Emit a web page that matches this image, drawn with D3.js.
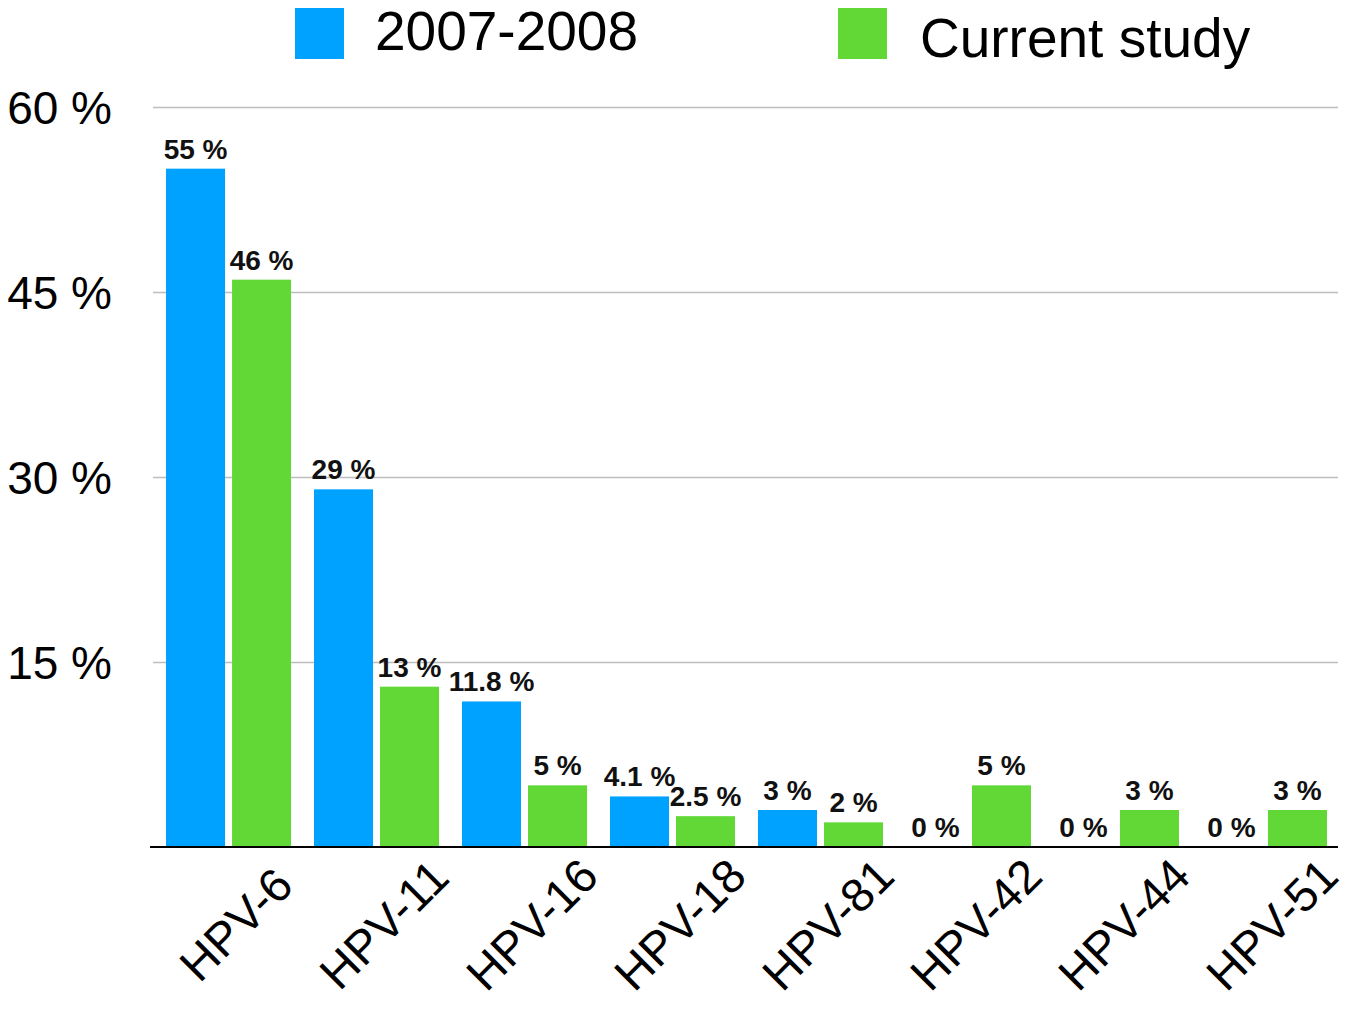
<!DOCTYPE html>
<html>
<head>
<meta charset="utf-8">
<script src="https://cdn.jsdelivr.net/npm/d3@7"></script>
<style>
  body { margin: 0; background: #fff; }
  svg { display: block; font-family: "Liberation Sans", Arial, Helvetica, sans-serif; }
</style>
</head>
<body>
<script>
const categories = ["HPV-6", "HPV-11", "HPV-16", "HPV-18", "HPV-81", "HPV-42", "HPV-44", "HPV-51"];
const series = ["2007-2008", "Current study"];
const values2007 = [55, 29, 11.8, 4.1, 3, 0, 0, 0];
const valuesCurrent = [46, 13, 5, 2.5, 2, 5, 3, 3];
const yTicks = [15, 30, 45, 60];
const colors = ["#00a2ff", "#61d836"];

const width = 1347, height = 1010;
const plotLeft = 153, plotRight = 1340, plotTop = 107, plotBottom = 847;

const svg = d3.select("body").append("svg")
  .attr("width", width)
  .attr("height", height);

const rows = categories.map((c, i) => ({ cat: c, vals: [values2007[i], valuesCurrent[i]] }));

const x0 = d3.scaleBand().domain(categories).range([plotLeft, plotRight])
  .paddingInner(0.155).paddingOuter(0.088);
const x1 = d3.scaleBand().domain(series).range([0, x0.bandwidth()])
  .paddingInner(0.106);
const y = d3.scaleLinear().domain([0, 60]).range([plotBottom, plotTop]);

// grid + y labels
const yAxis = d3.axisLeft(y)
  .tickValues(yTicks)
  .tickSize(-(1338 - plotLeft))
  .tickPadding(41)
  .tickFormat(d => d + " %");

const gy = svg.append("g")
  .attr("transform", "translate(" + plotLeft + ",0)")
  .call(yAxis);
gy.select(".domain").remove();
gy.selectAll(".tick line").attr("stroke", "#bdbdbd").attr("stroke-width", 1.6);
gy.selectAll(".tick text")
  .attr("fill", "#000")
  .attr("font-size", 46)
  .attr("dy", "0.35em")
  .attr("font-family", "Liberation Sans, Arial, sans-serif");

// bars
const groups = svg.append("g").selectAll("g")
  .data(rows).enter().append("g")
  .attr("transform", d => "translate(" + x0(d.cat) + ",0)");

groups.selectAll("rect")
  .data(d => d.vals.map((v, j) => ({ key: series[j], v: v, j: j })))
  .enter().append("rect")
  .attr("x", d => x1(d.key))
  .attr("y", d => y(d.v))
  .attr("width", x1.bandwidth())
  .attr("height", d => y(0) - y(d.v))
  .attr("fill", d => colors[d.j]);

groups.selectAll("text")
  .data(d => d.vals.map((v, j) => ({ key: series[j], v: v, j: j })))
  .enter().append("text")
  .attr("x", d => x1(d.key) + x1.bandwidth() / 2)
  .attr("y", d => y(d.v) - 10)
  .attr("text-anchor", "middle")
  .attr("font-size", 28)
  .attr("font-weight", "bold")
  .attr("fill", "#111")
  .text(d => d.v + " %");

// x axis
const xAxis = d3.axisBottom(x0).tickSize(0).tickSizeOuter(0);
const gx = svg.append("g")
  .attr("transform", "translate(0," + plotBottom + ")")
  .call(xAxis);
gx.select(".domain")
  .attr("d", "M150,0H1338")
  .attr("stroke", "#000")
  .attr("stroke-width", 2.2);
gx.selectAll(".tick text")
  .attr("fill", "#000")
  .attr("font-size", 47)
  .attr("font-family", "Liberation Sans, Arial, sans-serif")
  .attr("y", 0)
  .attr("dy", 0)
  .attr("text-anchor", "middle")
  .attr("transform", "translate(19,89) rotate(-45)");

// legend
const legendX = [295, 838];
const legendTextX = [375, 920];
const legendBase = [50, 57];
const legend = svg.append("g");
series.forEach((s, i) => {
  legend.append("rect")
    .attr("x", legendX[i]).attr("y", 8)
    .attr("width", 49).attr("height", 51)
    .attr("fill", colors[i]);
  legend.append("text")
    .attr("x", legendTextX[i]).attr("y", legendBase[i])
    .attr("font-size", 55)
    .attr("fill", "#000")
    .text(s);
});
</script>
</body>
</html>
